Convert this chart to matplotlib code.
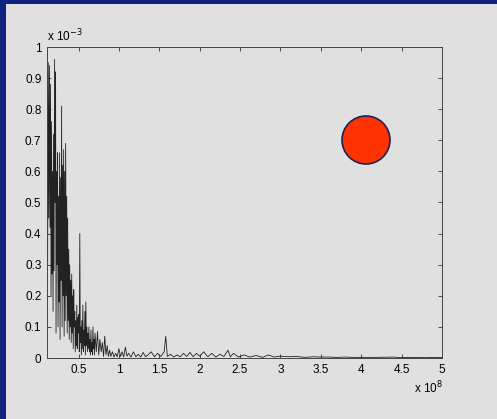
import matplotlib
matplotlib.use("Agg")
import matplotlib.pyplot as plt
from matplotlib.patches import Rectangle, Ellipse

plt.rcParams['font.family'] = ['Liberation Sans', 'DejaVu Sans']

# Spectrum magnitude: frequency in units of 1e8, amplitude in units of 1e-3
freq = [0.11, 0.118, 0.125, 0.132, 0.14, 0.147, 0.153, 0.16, 0.166, 0.172,
        0.178, 0.185, 0.191, 0.197, 0.204, 0.21, 0.216, 0.222, 0.229, 0.235,
        0.241, 0.247, 0.254, 0.26, 0.266, 0.272, 0.279, 0.285, 0.291, 0.297,
        0.304, 0.31, 0.316, 0.322, 0.329, 0.335, 0.341, 0.347, 0.354, 0.36,
        0.366, 0.372, 0.379, 0.385, 0.391, 0.397, 0.404, 0.41, 0.416, 0.422,
        0.429, 0.435, 0.441, 0.447, 0.454, 0.46, 0.466, 0.472, 0.479, 0.485,
        0.491, 0.497, 0.504, 0.51, 0.516, 0.522, 0.529, 0.535, 0.541, 0.547,
        0.554, 0.56, 0.566, 0.572, 0.579, 0.585, 0.591, 0.597, 0.604, 0.61,
        0.616, 0.622, 0.629, 0.635, 0.641, 0.647, 0.654, 0.66, 0.666, 0.672,
        0.679, 0.685, 0.691, 0.697, 0.704, 0.72, 0.735, 0.75, 0.765, 0.78,
        0.795, 0.81, 0.825, 0.84, 0.855, 0.87, 0.885, 0.90, 0.92, 0.94,
        0.96, 0.98, 1.00, 1.02, 1.04, 1.06, 1.08, 1.10, 1.12, 1.15,
        1.18, 1.21, 1.24, 1.27, 1.30, 1.33, 1.36, 1.40, 1.44, 1.48,
        1.52, 1.56, 1.58, 1.60, 1.64, 1.68, 1.72, 1.76, 1.80, 1.84,
        1.88, 1.92, 1.96, 2.00, 2.05, 2.10, 2.15, 2.20, 2.25, 2.30,
        2.35, 2.38, 2.42, 2.48, 2.55, 2.62, 2.70, 2.78, 2.85, 2.92,
        3.00, 3.10, 3.20, 3.30, 3.40, 3.50, 3.60, 3.70, 3.80, 3.90,
        4.00, 4.20, 4.40, 4.50, 4.60, 4.80, 5.00]
amp = [0.92, 0.30, 0.95, 0.45, 0.94, 0.42, 0.88, 0.20, 0.76, 0.27,
       0.60, 0.15, 0.72, 0.28, 0.96, 0.50, 0.92, 0.08, 0.60, 0.30,
       0.66, 0.10, 0.52, 0.18, 0.66, 0.06, 0.58, 0.25, 0.81, 0.10,
       0.62, 0.20, 0.67, 0.07, 0.60, 0.12, 0.69, 0.20, 0.52, 0.08,
       0.45, 0.12, 0.35, 0.06, 0.30, 0.10, 0.25, 0.05, 0.27, 0.08,
       0.20, 0.03, 0.22, 0.10, 0.15, 0.02, 0.12, 0.04, 0.17, 0.03,
       0.13, 0.08, 0.14, 0.02, 0.40, 0.05, 0.10, 0.01, 0.12, 0.03,
       0.17, 0.02, 0.09, 0.04, 0.15, 0.01, 0.18, 0.04, 0.10, 0.02,
       0.08, 0.03, 0.10, 0.02, 0.06, 0.01, 0.09, 0.02, 0.05, 0.01,
       0.10, 0.03, 0.06, 0.01, 0.08, 0.02, 0.085, 0.01, 0.06, 0.02,
       0.05, 0.005, 0.07, 0.01, 0.04, 0.005, 0.025, 0.005, 0.02, 0.003,
       0.015, 0.004, 0.03, 0.005, 0.02, 0.003, 0.035, 0.006, 0.015, 0.003,
       0.02, 0.004, 0.012, 0.003, 0.018, 0.004, 0.01, 0.02, 0.004, 0.015,
       0.005, 0.02, 0.07, 0.005, 0.012, 0.003, 0.01, 0.004, 0.015, 0.005,
       0.018, 0.004, 0.015, 0.006, 0.02, 0.004, 0.015, 0.003, 0.012, 0.005,
       0.025, 0.004, 0.015, 0.003, 0.01, 0.003, 0.008, 0.002, 0.01, 0.003,
       0.006, 0.004, 0.005, 0.002, 0.004, 0.003, 0.003, 0.002, 0.003, 0.002,
       0.002, 0.002, 0.003, 0.001, 0.002, 0.001, 0.002]

x_ticks = [0.5, 1, 1.5, 2, 2.5, 3, 3.5, 4, 4.5, 5]
x_labels = ['0.5', '1', '1.5', '2', '2.5', '3', '3.5', '4', '4.5', '5']
y_ticks = [0, 0.1, 0.2, 0.3, 0.4, 0.5, 0.6, 0.7, 0.8, 0.9, 1]
y_labels = ['0', '0.1', '0.2', '0.3', '0.4', '0.5', '0.6', '0.7', '0.8', '0.9', '1']

W, H = 497, 419
bg = '#e0e0e0'
fig = plt.figure(figsize=(W / 100, H / 100), dpi=100, facecolor=bg)

# slide frame: blue strips along the left and top edges
fig.patches.append(Rectangle((0, 0), 6 / W, 1, transform=fig.transFigure,
                             facecolor='#10237f', edgecolor='none', zorder=0))
fig.patches.append(Rectangle((0, 1 - 4 / H), 1, 4 / H, transform=fig.transFigure,
                             facecolor='#10237f', edgecolor='none', zorder=0))

ax = fig.add_axes([47 / W, (H - 358) / H, (442 - 47) / W, (358 - 47) / H])
ax.set_facecolor(bg)
ax.plot(freq, amp, color='#222222', lw=0.6)

ax.set_xlim(0.11, 5)
ax.set_ylim(0, 1)
ax.set_xticks(x_ticks)
ax.set_xticklabels(x_labels)
ax.set_yticks(y_ticks)
ax.set_yticklabels(y_labels)
ax.tick_params(direction='in', length=3, width=0.6, color='#333333',
               labelsize=8.5, top=True, right=True, pad=4)
for s in ax.spines.values():
    s.set_color('#444444')
    s.set_linewidth(0.7)

fig.text(47 / W, 1 - 41 / H, r'x 10$^{-3}$', fontsize=8.5, ha='left', va='baseline')
fig.text(414 / W, 1 - 393 / H, r'x 10$^{8}$', fontsize=8.5, ha='left', va='baseline')

# decorative red marker
fig.patches.append(Ellipse((366 / W, 1 - 140 / H), 48 / W, 48 / H,
                           transform=fig.transFigure, facecolor='#ff3300',
                           edgecolor='#1b2356', linewidth=1.2, zorder=5))

fig.savefig('out.png', dpi=100, facecolor=bg)
